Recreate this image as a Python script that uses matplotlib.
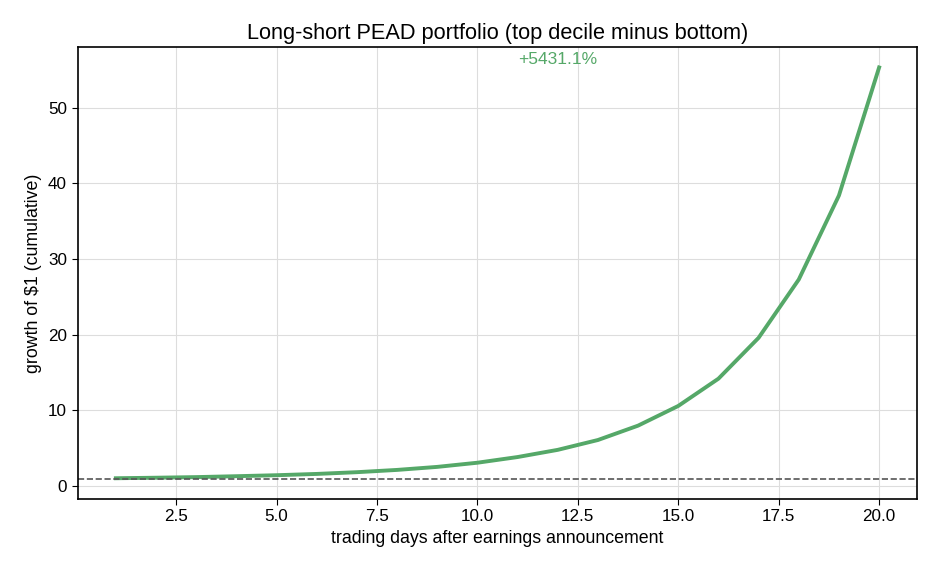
import numpy as np
import matplotlib.pyplot as plt

plt.rcParams['font.family'] = ['Liberation Sans', 'DejaVu Sans']

# cumulative growth of $1
days = list(range(1, 21))
growth = [1.05, 1.12, 1.20, 1.32, 1.45, 1.62, 1.85, 2.15, 2.55, 3.10,
          3.85, 4.80, 6.10, 8.00, 10.6, 14.2, 19.6, 27.3, 38.4, 55.311]
final_label = '+5431.1%'

fig, ax = plt.subplots(figsize=(9.36, 5.72), dpi=100)
ax.plot(days, growth, color='#55a868', linewidth=2.8)
ax.axhline(1.0, color='#555555', linestyle='--', linewidth=1.2)
ax.text(12, growth[-1], final_label, color='#55a868', fontsize=12.5,
        ha='center', va='bottom')

ax.grid(True, color='#dddddd', linewidth=0.8)
ax.set_axisbelow(True)
ax.tick_params(labelsize=12.3, length=4.2)
ax.set_title('Long-short PEAD portfolio (top decile minus bottom)', fontsize=15.7)
ax.set_xlabel('trading days after earnings announcement', fontsize=12.8)
ax.set_ylabel('growth of $1 (cumulative)', fontsize=12.8)
for s in ax.spines.values():
    s.set_linewidth(1.2)

fig.subplots_adjust(left=0.083, right=0.98, top=0.918, bottom=0.128)
fig.savefig('out.png')
